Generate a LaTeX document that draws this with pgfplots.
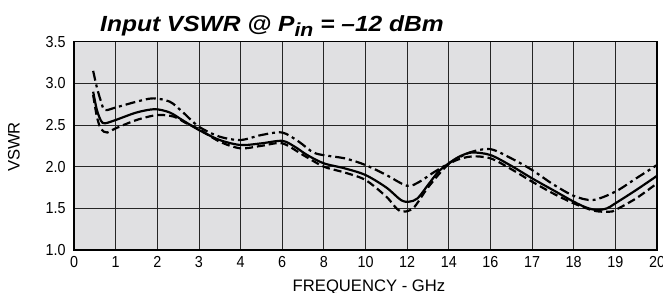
\documentclass[border=0pt]{standalone}
\usepackage{pgfplots}
\pgfplotsset{compat=1.18}
\usepackage{fontspec}
\setmainfont{Liberation Sans}
\newfontfamily\condfont{Liberation Sans}
\newfontfamily\tickfont[FakeStretch=0.9]{Liberation Sans}
\newfontfamily\titlefont[FakeStretch=1.12]{Liberation Sans}
\definecolor{bggray}{RGB}{224,224,226}

\pgfplotstableread{
x y
0.46 2.90
0.55 2.68
0.65 2.55
0.74 2.52
1.0 2.56
1.5 2.65
1.94 2.69
2.3 2.65
2.6 2.56
3.0 2.44
3.5 2.32
4.0 2.26
4.5 2.28
5.0 2.31
5.3 2.24
5.6 2.14
6.0 2.04
6.5 1.98
7.0 1.90
7.5 1.75
7.85 1.60
8.05 1.58
8.25 1.62
8.5 1.78
8.75 1.94
9.0 2.04
9.25 2.12
9.55 2.17
10.0 2.14
10.5 2.01
11.0 1.86
11.5 1.72
12.0 1.58
12.3 1.51
12.55 1.48
12.8 1.50
13.0 1.56
13.5 1.72
14.0 1.89
}\solid

\pgfplotstableread{
x y
0.46 3.15
0.55 2.95
0.65 2.78
0.74 2.68
1.0 2.71
1.5 2.78
1.9 2.82
2.3 2.78
2.6 2.66
3.0 2.48
3.5 2.36
4.0 2.32
4.5 2.38
5.0 2.41
5.4 2.30
5.8 2.16
6.5 2.10
7.0 2.02
7.5 1.90
8.0 1.77
8.3 1.82
8.6 1.92
9.0 2.04
9.5 2.17
10.0 2.21
10.5 2.10
11.0 1.96
11.5 1.79
12.0 1.65
12.46 1.60
13.0 1.70
13.5 1.86
14.0 2.02
}\dashdot

\pgfplotstableread{
x y
0.46 2.86
0.55 2.60
0.65 2.45
0.8 2.41
1.0 2.46
1.5 2.56
2.0 2.62
2.4 2.60
2.7 2.52
3.0 2.45
3.5 2.30
4.0 2.22
4.5 2.25
5.0 2.28
5.5 2.14
6.0 2.00
6.5 1.93
7.0 1.84
7.5 1.64
7.82 1.47
8.14 1.50
8.5 1.75
9.0 2.03
9.5 2.12
10.0 2.10
10.5 1.97
11.0 1.82
11.5 1.68
12.0 1.56
12.5 1.47
12.86 1.46
13.0 1.48
13.5 1.62
14.0 1.80
}\dashed

\begin{document}
\begin{tikzpicture}
\useasboundingbox (0,0) rectangle (663bp,293bp);
\begin{axis}[
  at={(74bp,43bp)}, anchor=south west,
  scale only axis, width=583bp, height=208.3bp,
  xmin=0, xmax=14, ymin=1, ymax=3.5,
  xtick={0,...,14},
  xticklabels={0,1,2,3,4,6,8,10,12,14,16,17,18,19,20},
  ytick={1,1.5,2,2.5,3,3.5},
  yticklabels={1.0,1.5,2.0,2.5,3.0,3.5},
  grid=major,
  major grid style={black!85, line width=0.8pt},
  axis line style={black, line width=1.5pt},
  major tick length=0pt,
  axis background/.style={fill=bggray},
  tick label style={font=\tickfont\fontsize{16}{16}\selectfont},
  yticklabel style={xshift=-5bp},
  xticklabel style={yshift=-3bp},
  clip=true,
]
\addplot[black, line width=2.2pt, smooth, tension=0.5] table[x=x,y=y]{\solid};
\addplot[black, line width=2.2pt, smooth, tension=0.5, dash pattern=on 10pt off 4pt on 3pt off 4pt] table[x=x,y=y]{\dashdot};
\addplot[black, line width=2.2pt, smooth, tension=0.5, dash pattern=on 8pt off 4pt] table[x=x,y=y]{\dashed};
\end{axis}
\node[anchor=base west, font=\titlefont\bfseries\itshape\fontsize{22}{22}\selectfont, inner sep=0pt] at (100bp,261.5bp) {Input VSWR @ P\raisebox{-0.22em}{\fontsize{19}{19}\selectfont in} = \char"2013 12 dBm};
\node[font=\condfont\fontsize{16.7}{16.7}\selectfont, inner sep=0pt, rotate=90] at (14bp,146bp) {VSWR};
\node[font=\condfont\fontsize{16.7}{16.7}\selectfont, inner sep=0pt, anchor=base] at (369bp,2bp) {FREQUENCY - GHz};
\end{tikzpicture}
\end{document}
